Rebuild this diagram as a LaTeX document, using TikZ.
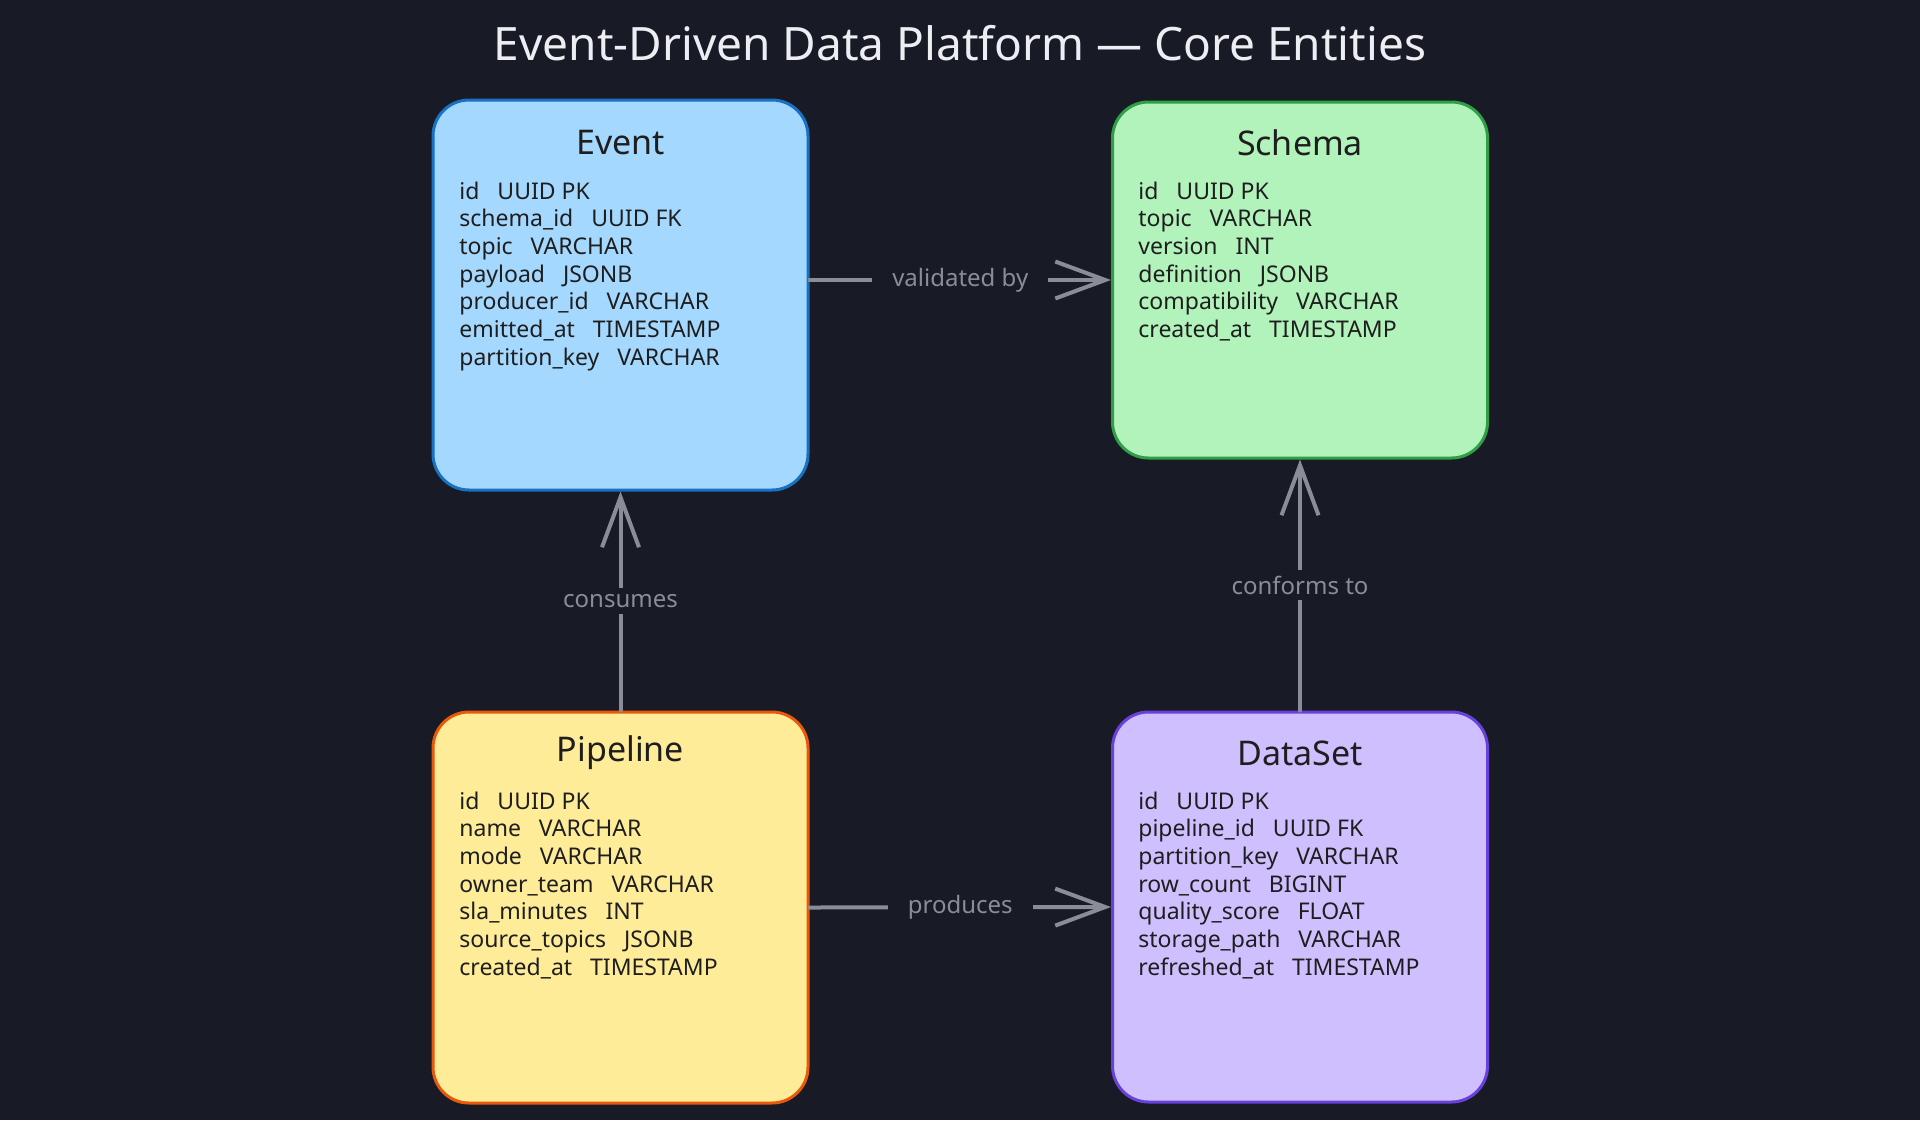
\documentclass[tikz,border=0pt]{standalone}
\usepackage{fontspec}
\setmainfont{Noto Sans}
\usetikzlibrary{arrows.meta}
\definecolor{bgcol}{HTML}{181A26}
\definecolor{titlecol}{HTML}{ECEEF2}
\definecolor{inkcol}{HTML}{1E1E1E}
\definecolor{linkcol}{HTML}{8A8D96}
\definecolor{eventfill}{HTML}{A5D8FF}
\definecolor{eventline}{HTML}{1971C2}
\definecolor{schemafill}{HTML}{B2F2BB}
\definecolor{schemaline}{HTML}{2F9E44}
\definecolor{pipefill}{HTML}{FFEC99}
\definecolor{pipeline}{HTML}{E8590C}
\definecolor{setfill}{HTML}{D0BFFF}
\definecolor{setline}{HTML}{6741D9}
\begin{document}
\begin{tikzpicture}[x=0.5pt, y=-0.5pt,
        entity/.style={line width=1.5pt, rounded corners=18pt, minimum width=187.5pt, inner sep=0pt},
        etitle/.style={font=\fontsize{17}{20}\selectfont\bfseries, text=inkcol},
        field/.style={font=\fontsize{11.5}{14}\selectfont, text=inkcol, anchor=base west, inner sep=0pt},
        rel/.style={draw=linkcol, line width=2pt, line cap=round, -{Straight Barb[length=25pt,width=18.5pt]}},
        rellabel/.style={fill=bgcol, text=linkcol, font=\fontsize{12}{14}\selectfont, inner xsep=10pt, inner ysep=3pt}]
    \fill [bgcol] (0,0) rectangle (1920,1120);
    \useasboundingbox (0,0) rectangle (1920,1120);

    \node [font=\fontsize{23}{28}\selectfont, text=titlecol] (title) at (960,43) {Event-Driven Data Platform — Core Entities};

    % entities
    \node [entity, fill=eventfill, draw=eventline, minimum height=195pt] (event) at (620.5,295) {};
    \node [etitle] (event-t) at (620.5,143) {Event};
    \foreach \fname/\ftype [count=\i] in {id/UUID PK, schema\_id/UUID FK, topic/VARCHAR, payload/JSONB, producer\_id/VARCHAR, emitted\_at/TIMESTAMP, partition\_key/VARCHAR}
        \node [field] (event-f\i) at (459,{199+27.7*(\i-1)}) {\fname\hspace{9pt}\ftype};

    \node [entity, fill=schemafill, draw=schemaline, minimum height=178pt] (schema) at (1300,280) {};
    \node [etitle] (schema-t) at (1300,143) {Schema};
    \foreach \fname/\ftype [count=\i] in {id/UUID PK, topic/VARCHAR, version/INT, definition/JSONB, compatibility/VARCHAR, created\_at/TIMESTAMP}
        \node [field] (schema-f\i) at (1138,{199+27.7*(\i-1)}) {\fname\hspace{9pt}\ftype};

    \node [entity, fill=pipefill, draw=pipeline, minimum height=195.5pt] (pipeline) at (620.5,907.5) {};
    \node [etitle] (pipeline-t) at (620.5,753) {Pipeline};
    \foreach \fname/\ftype [count=\i] in {id/UUID PK, name/VARCHAR, mode/VARCHAR, owner\_team/VARCHAR, sla\_minutes/INT, source\_topics/JSONB, created\_at/TIMESTAMP}
        \node [field] (pipeline-f\i) at (459,{809+27.7*(\i-1)}) {\fname\hspace{9pt}\ftype};

    \node [entity, fill=setfill, draw=setline, minimum height=195pt] (dataset) at (1300,907) {};
    \node [etitle] (dataset-t) at (1300,753) {DataSet};
    \foreach \fname/\ftype [count=\i] in {id/UUID PK, pipeline\_id/UUID FK, partition\_key/VARCHAR, row\_count/BIGINT, quality\_score/FLOAT, storage\_path/VARCHAR, refreshed\_at/TIMESTAMP}
        \node [field] (dataset-f\i) at (1138,{809+27.7*(\i-1)}) {\fname\hspace{9pt}\ftype};

    % relations
    \draw [rel] (event.east |- schema.west) -- node [rellabel] (validated) {validated by} (schema.west);
    \draw [rel] (pipeline.north) -- node [rellabel] (consumes) {consumes} (event.south);
    \draw [rel] (dataset.north) -- node [rellabel] (conforms) {conforms to} (schema.south);
    \draw [rel] (pipeline.east) -- node [rellabel] (produces) {produces} (dataset.west);
\end{tikzpicture}
\end{document}
